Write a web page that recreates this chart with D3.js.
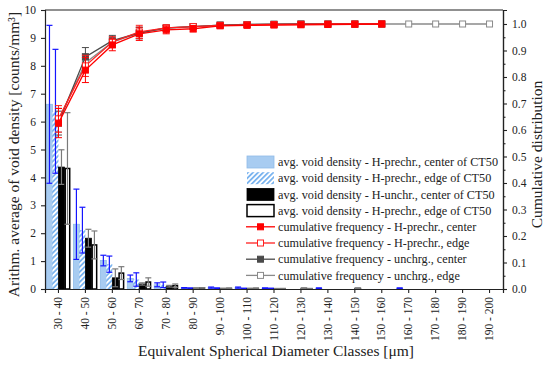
<!DOCTYPE html>
<html>
<head>
<meta charset="utf-8">
<script src="https://cdn.jsdelivr.net/npm/d3@7"></script>
<style>
body { margin: 0; background: #fff; }
text { font-family: "Liberation Serif", "DejaVu Serif", serif; fill: #222; }
</style>
</head>
<body>
<div id="main"></div>
<script>
// size classes
const classes = ["30 - 40", "40 - 50", "50 - 60", "60 - 70", "70 - 80", "80 - 90", "90 - 100",
	"100 - 110", "110 - 120", "120 - 130", "130 - 140", "140 - 150", "150 - 160",
	"160 - 170", "170 - 180", "180 - 190", "190 - 200"];

// avg. void density [counts/mm3] + error
const prechrCenter    = [6.62, 2.32, 1.02, 0.38, 0.15, 0.04, 0.05, 0.05, 0.03, 0, 0.03, 0, 0, 0.03, 0, 0, 0];
const prechrCenterErr = [2.83, 1.26, 0.19, 0.12, 0.07, 0.01, 0.02, 0.02, 0.01, 0, 0.01, 0, 0, 0.01, 0, 0, 0];
const prechrEdge      = [6.37, 2.11, 0.89, 0.34, 0.15, 0.03, 0.03, 0.02, 0.02, 0, 0, 0, 0, 0, 0, 0, 0];
const prechrEdgeErr   = [2.22, 0.82, 0.29, 0.24, 0.10, 0.01, 0.01, 0.01, 0.01, 0, 0, 0, 0, 0, 0, 0, 0];
const unchrCenter     = [4.37, 1.82, 0.40, 0.18, 0.10, 0.03, 0.02, 0.02, 0.01, 0.03, 0, 0.03, 0, 0, 0, 0, 0];
const unchrCenterErr  = [0.62, 0.32, 0.32, 0.04, 0.03, 0.01, 0.01, 0.01, 0.01, 0.01, 0, 0.01, 0, 0, 0, 0, 0];
const unchrEdge       = [4.32, 1.58, 0.57, 0.25, 0.12, 0.04, 0.02, 0.02, 0.01, 0.01, 0, 0, 0, 0, 0, 0, 0];
const unchrEdgeErr    = [2.00, 0.50, 0.23, 0.15, 0.06, 0.01, 0.01, 0.01, 0.01, 0.01, 0, 0, 0, 0, 0, 0, 0];

// cumulative frequency
const cumPrechrCenter    = [0.626, 0.826, 0.921, 0.963, 0.978, 0.982, 0.993, 0.995, 0.996, 0.997, 0.998, 0.999, 1.0];
const cumPrechrCenterErr = [0.055, 0.047, 0.022, 0.025, 0.015, 0.012, 0.006, 0.004, 0.003, 0.002, 0.002, 0.001, 0.001];
const cumPrechrEdge      = [0.642, 0.842, 0.932, 0.970, 0.985, 0.990, 0.995, 0.997, 0.998, 0.999, 1.0, 1.0, 1.0];
const cumPrechrEdgeErr   = [0.050, 0.040, 0.020, 0.025, 0.012, 0.010, 0.005, 0.004, 0.003, 0.002, 0.001, 0.001, 0.001];
const cumUnchrCenter     = [0.626, 0.876, 0.937, 0.966, 0.985, 0.990, 0.996, 0.998, 0.999, 1.0, 1.0, 1.0, 1.0];
const cumUnchrCenterErr  = [0.045, 0.035, 0.020, 0.022, 0.010, 0.010, 0.005, 0.003, 0.002, 0.001, 0.001, 0.001, 0.001];
const cumUnchrEdge       = [0.637, 0.853, 0.932, 0.966, 0.984, 0.990, 0.996, 0.998, 0.999, 1.0, 1.0, 1.0, 1.0, 1.0, 1.0, 1.0, 1.0];
const cumUnchrEdgeErr    = [0.045, 0.035, 0.020, 0.020, 0.010, 0.008, 0.004, 0.003, 0.002, 0.001, 0.001, 0.001, 0.001, 0, 0, 0, 0];

const leftTicks = d3.range(0, 11, 1);
const rightTicks = d3.range(0, 1.01, 0.1);

let margin = {top: 10, right: 47, bottom: 78, left: 45};
let W = 550, H = 367;
let width = W - margin.left - margin.right;
let height = H - margin.top - margin.bottom;

let svg = d3.select("#main")
	.append("svg")
		.attr("width", W)
		.attr("height", H);

let defs = svg.append("defs");
let pat = defs.append("pattern")
	.attr("id", "hatch")
	.attr("patternUnits", "userSpaceOnUse")
	.attr("width", 3.6)
	.attr("height", 3.6)
	.attr("patternTransform", "rotate(45)");
pat.append("rect").attr("width", 3.6).attr("height", 3.6).attr("fill", "#fff");
pat.append("line").attr("x1", 0.9).attr("y1", 0).attr("x2", 0.9).attr("y2", 3.6)
	.attr("stroke", "#62a6ec").attr("stroke-width", 1.5);

let g = svg.append("g")
	.attr("transform", `translate(${margin.left}, ${margin.top})`);

let x = d3.scaleBand()
	.domain(classes)
	.range([0, width]);

let sub = d3.scaleBand()
	.domain([0, 1, 2, 3])
	.range([-12, 12]);

let y = d3.scaleLinear()
	.domain([0, 10])
	.range([height, 0]);

let y2 = d3.scaleLinear()
	.domain([0, 1.0528])
	.range([height, 0]);

const cx = c => x(c) + x.bandwidth() / 2;

// bars
const barSets = [
	{vals: prechrCenter, err: prechrCenterErr, fill: "#a8ccf1", stroke: "#8fbbe8", errColor: "#1515ff"},
	{vals: prechrEdge, err: prechrEdgeErr, fill: "url(#hatch)", stroke: "none", errColor: "#1515ff"},
	{vals: unchrCenter, err: unchrCenterErr, fill: "#000", stroke: "#000", errColor: "#7a7a7a"},
	{vals: unchrEdge, err: unchrEdgeErr, fill: "#fff", stroke: "#000", errColor: "#7a7a7a"}
];

barSets.forEach((s, i) => {
	let data = classes.map((c, j) => ({c: c, v: s.vals[j], e: s.err[j]})).filter(d => d.v > 0);
	let bg = g.append("g");
	bg.selectAll("rect")
		.data(data)
		.enter()
		.append("rect")
			.attr("x", d => cx(d.c) + sub(i) + (i == 3 ? 0.75 : 0))
			.attr("width", sub.bandwidth() - (i == 3 ? 1.5 : 0))
			.attr("y", d => y(d.v))
			.attr("height", d => y(0) - y(d.v))
			.attr("fill", s.fill)
			.attr("stroke", s.stroke)
			.attr("stroke-width", i == 3 ? 1.5 : 0.8);
	let eg = g.append("g").attr("class", "err");
	data.forEach(d => {
		let xm = cx(d.c) + sub(i) + sub.bandwidth() / 2;
		let y0 = y(Math.max(0, d.v - d.e)), y1 = y(d.v + d.e);
		eg.append("line").attr("x1", xm).attr("x2", xm).attr("y1", y0).attr("y2", y1)
			.attr("stroke", s.errColor).attr("stroke-width", 1.2);
		[y0, y1].forEach(yy => eg.append("line")
			.attr("x1", xm - 3).attr("x2", xm + 3).attr("y1", yy).attr("y2", yy)
			.attr("stroke", s.errColor).attr("stroke-width", 1.2));
	});
});

// cumulative lines
const lineSets = [
	{vals: cumUnchrEdge, err: cumUnchrEdgeErr, color: "#8a8a8a", filled: false},
	{vals: cumUnchrCenter, err: cumUnchrCenterErr, color: "#4a4a4a", filled: true},
	{vals: cumPrechrEdge, err: cumPrechrEdgeErr, color: "#ff2020", filled: false},
	{vals: cumPrechrCenter, err: cumPrechrCenterErr, color: "#ff0000", filled: true}
];

lineSets.forEach(s => {
	let data = s.vals.map((v, j) => ({c: classes[j], v: v, e: s.err[j]}));
	let lg = g.append("g");
	lg.append("path")
		.datum(data)
		.attr("fill", "none")
		.attr("stroke", s.color)
		.attr("stroke-width", 1.3)
		.attr("d", d3.line().x(d => cx(d.c)).y(d => y2(d.v)));
	data.forEach(d => {
		if (d.e > 0.004) {
			let y0 = y2(d.v - d.e), y1 = y2(d.v + d.e);
			lg.append("line").attr("x1", cx(d.c)).attr("x2", cx(d.c)).attr("y1", y0).attr("y2", y1)
				.attr("stroke", s.color).attr("stroke-width", 1);
			[y0, y1].forEach(yy => lg.append("line")
				.attr("x1", cx(d.c) - 3.5).attr("x2", cx(d.c) + 3.5).attr("y1", yy).attr("y2", yy)
				.attr("stroke", s.color).attr("stroke-width", 1));
		}
	});
	lg.selectAll("rect")
		.data(data)
		.enter()
		.append("rect")
			.attr("x", d => cx(d.c) - 3)
			.attr("y", d => y2(d.v) - 3)
			.attr("width", 6)
			.attr("height", 6)
			.attr("fill", s.filled ? s.color : "#fff")
			.attr("stroke", s.color)
			.attr("stroke-width", 1);
});

// axes
let axL = g.append("g")
	.call(d3.axisLeft(y).tickValues(leftTicks).tickFormat(d3.format("d")).tickSize(4).tickPadding(5));
let axR = g.append("g")
	.attr("transform", `translate(${width},0)`)
	.call(d3.axisRight(y2).tickValues(rightTicks).tickFormat(d3.format(".1f")).tickSize(4).tickPadding(5));
g.append("g")
	.attr("transform", `translate(${width},0)`)
	.call(d3.axisRight(y2).tickValues(d3.range(0.05, 1.05, 0.1)).tickFormat("").tickSize(2.5));
let axB = g.append("g")
	.attr("transform", `translate(0,${height})`)
	.call(d3.axisBottom(x).tickSize(4).tickPadding(4));
axB.selectAll("text")
	.attr("transform", "rotate(-90)")
	.attr("text-anchor", "end")
	.attr("dy", "0.32em")
	.attr("x", -8)
	.attr("y", 0);
g.append("line")
	.attr("x1", 0).attr("x2", width).attr("y1", 0).attr("y2", 0)
	.attr("stroke", "#222").attr("stroke-width", 1.2);

g.selectAll(".domain").attr("stroke", "#222").attr("stroke-width", 1.2);
g.selectAll(".tick line").attr("stroke", "#222").attr("stroke-width", 1.1);
g.selectAll(".tick text").style("font-size", "11.5px").style("font-family", "Liberation Serif").attr("fill", "#222");

// titles
svg.append("text")
	.attr("x", margin.left + width / 2 + 2)
	.attr("y", 356)
	.attr("text-anchor", "middle")
	.style("font-size", "15.5px")
	.text("Equivalent Spherical Diameter Classes [μm]");
svg.append("text")
	.attr("transform", `translate(19,${margin.top + height / 2 + 5}) rotate(-90)`)
	.attr("text-anchor", "middle")
	.style("font-size", "15.5px")
	.text("Arithm. average of void density [counts/mm³]");
svg.append("text")
	.attr("transform", `translate(542,${margin.top + height / 2 + 5}) rotate(-90)`)
	.attr("text-anchor", "middle")
	.style("font-size", "15.5px")
	.text("Cumulative distribution");

// legend
const legendLabels = [
	"avg. void density - H-prechr., center of CT50",
	"avg. void density - H-prechr., edge of CT50",
	"avg. void density - H-unchr., center of CT50",
	"avg. void density - H-prechr., edge of CT50",
	"cumulative frequency - H-prechr., center",
	"cumulative frequency - H-prechr., edge",
	"cumulative frequency - unchrg., center",
	"cumulative frequency - unchrg., edge"
];
const legendBox = [barSets[0], barSets[1], barSets[2], barSets[3]];
const legendLine = [lineSets[3], lineSets[2], lineSets[1], lineSets[0]];

let leg = svg.append("g").attr("transform", "translate(246,162)");
legendLabels.forEach((lab, i) => {
	let row = leg.append("g").attr("transform", `translate(0,${i * 16.2})`);
	if (i < 4) {
		let s = legendBox[i];
		row.append("rect")
			.attr("x", 1).attr("y", -6).attr("width", 27).attr("height", 12)
			.attr("fill", s.fill)
			.attr("stroke", i == 1 ? "none" : s.stroke)
			.attr("stroke-width", i == 3 ? 1.5 : 0.8);
	} else {
		let s = legendLine[i - 4];
		row.append("line").attr("x1", 0).attr("x2", 29).attr("y1", 0).attr("y2", 0)
			.attr("stroke", s.color).attr("stroke-width", 1.3);
		row.append("rect").attr("x", 11.5).attr("y", -3).attr("width", 6).attr("height", 6)
			.attr("fill", s.filled ? s.color : "#fff").attr("stroke", s.color);
	}
	row.append("text")
		.attr("x", 32)
		.attr("y", 0)
		.attr("dy", "0.35em")
		.style("font-size", "12.2px")
		.text(lab);
});
</script>
</body>
</html>
